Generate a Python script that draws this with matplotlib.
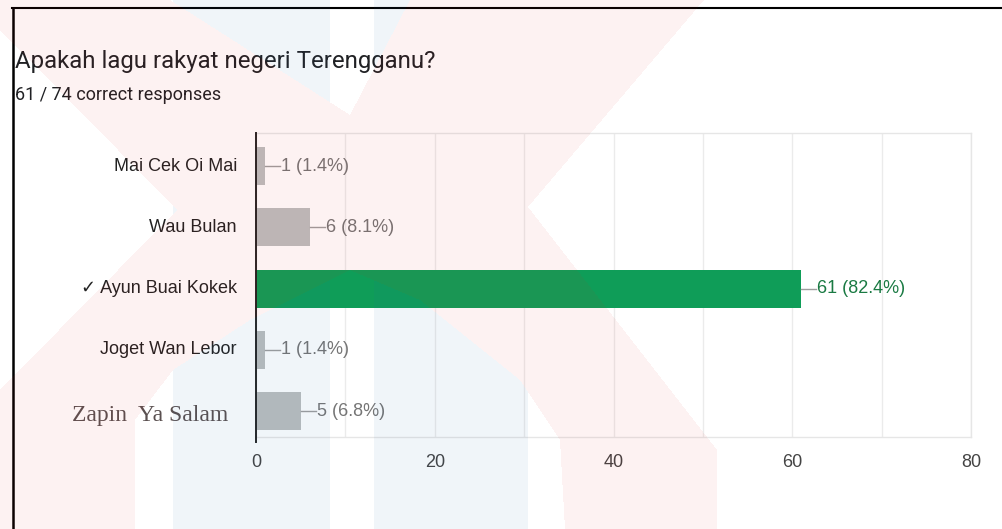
import numpy as np
import matplotlib
matplotlib.use("Agg")
import matplotlib.pyplot as plt
from matplotlib.lines import Line2D
from matplotlib.path import Path
import matplotlib.transforms as mtransforms

# ---------------- data ----------------
title = "Apakah lagu rakyat negeri Terengganu?"
subtitle = "61 / 74 correct responses"
categories = ["Mai Cek Oi Mai", "Wau Bulan", "✓ Ayun Buai Kokek", "Joget Wan Lebor", "Zapin  Ya Salam"]
counts = [1, 6, 61, 1, 5]
percents = [1.4, 8.1, 82.4, 1.4, 6.8]
correct = [False, False, True, False, False]
xticks = [0, 20, 40, 60, 80]

W, H = 1003, 529
fig = plt.figure(figsize=(W / 100, H / 100), dpi=100)
fig.patch.set_facecolor("white")

def fx(px):
    return px / W

def fy(py):
    return 1 - py / H

# axes placement
ax_left, ax_right, ax_top, ax_bottom = 256, 971, 133, 437
ax = fig.add_axes([fx(ax_left), fy(ax_bottom), fx(ax_right - ax_left), (ax_bottom - ax_top) / H])
ax.set_facecolor("white")

y = np.arange(len(categories))
grey = "#bbbebe"
green = "#0f9d58"
colors = [green if c else grey for c in correct]
ax.barh(y, counts, height=0.62, color=colors, edgecolor="none", zorder=3)

ax.set_xlim(0, 80)
ax.set_ylim(4.42, -0.54)

ax.set_xticks(xticks)
ax.set_xticks(np.arange(10, 80, 20), minor=True)
ax.grid(True, axis="x", which="both", color="#ebebeb", linewidth=1.0, zorder=0)
ax.tick_params(axis="x", which="both", length=0, pad=12, labelsize=13, labelcolor="#444444")
for lab in ax.get_xticklabels():
    lab.set_fontfamily("Liberation Sans")
ax.set_yticks([])
for s in ["top", "right", "bottom"]:
    ax.spines[s].set_color("#e6e6e6")
    ax.spines[s].set_linewidth(1.0)
ax.spines["left"].set_visible(False)

# zero axis line (extends a little below plot)
ax.add_line(Line2D([0, 0], [1.0, -5 / (ax_bottom - ax_top)], color="#222222", linewidth=1.4,
                   transform=ax.get_xaxis_transform(), clip_on=False, zorder=5))

# value labels with connector
px_per_unit = (ax_right - ax_left) / 80
for i, (c, p, ok) in enumerate(zip(counts, percents, correct)):
    conn = 15 / px_per_unit
    ax.plot([c, c + conn], [i, i], color="#9e9e9e", linewidth=1.0, zorder=4, clip_on=False)
    ax.text(c + conn + 0.1, i, f"{c} ({p}%)", va="center", ha="left", fontsize=13,
            family="Liberation Sans", color="#1a7a43" if ok else "#757575", zorder=6)

# category labels
trans = mtransforms.blended_transform_factory(fig.transFigure, ax.transData)
for i, cat in enumerate(categories):
    if i == 4:
        ax.text(fx(228), i + 0.07, cat, transform=trans, ha="right", va="center",
                fontsize=17, family="Liberation Serif", color="#5a5050")
    else:
        ax.text(fx(237), i, cat, transform=trans, ha="right", va="center",
                fontsize=13, family=["Liberation Sans", "DejaVu Sans"], color="#222222")

# title & subtitle
fig.text(fx(15), fy(68), title, ha="left", va="baseline", fontsize=17.3, family="Roboto", color="#202124")
fig.text(fx(15), fy(100), subtitle, ha="left", va="baseline", fontsize=13.0, family="Roboto", color="#202124")

# black frame
fig.add_artist(Line2D([fx(13), fx(13)], [fy(8), fy(H + 5)], color="black", linewidth=1.8,
                      transform=fig.transFigure))
fig.add_artist(Line2D([fx(12), fx(W + 5)], [fy(8), fy(8)], color="black", linewidth=1.5,
                      transform=fig.transFigure))

# faint watermark overlay (decorative background logo)
yy, xx = np.mgrid[0:H, 0:W]
pts = np.column_stack([xx.ravel() + 0.5, yy.ravel() + 0.5])
red_poly = Path([(0, 0), (170, 0), (350, 115), (410, 0), (704, 0), (528, 207), (717, 450),
                 (717, 529), (565, 529), (560, 440), (520, 380), (420, 300), (350, 270),
                 (250, 320), (173, 370), (135, 420), (135, 529), (0, 529), (0, 390),
                 (177, 210), (0, 30), (0, 0)])
red_mask = red_poly.contains_points(pts).reshape(H, W)
blue_mask = (((xx >= 173) & (xx < 330)) | ((xx >= 374) & (xx < 528))) & ~red_mask
img = np.zeros((H, W, 4))
img[red_mask] = [225 / 255, 30 / 255, 30 / 255, 0.058]
img[blue_mask] = [43 / 255, 105 / 255, 167 / 255, 0.07]
fig.figimage(img, xo=0, yo=0, origin="upper", zorder=20)

fig.savefig("out.png", dpi=100)
